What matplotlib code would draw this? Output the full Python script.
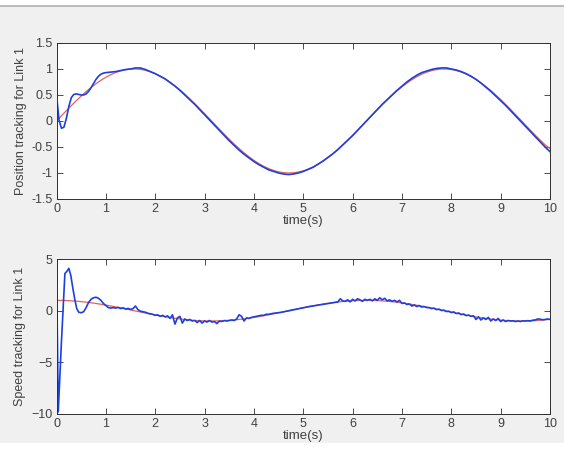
import numpy as np
import matplotlib
matplotlib.use("Agg")
import matplotlib.pyplot as plt
from matplotlib.patches import Rectangle
from matplotlib.lines import Line2D

# ---------------------------------------------------------------------------
# Datos
# ---------------------------------------------------------------------------
t_ref = np.linspace(0, 10, 101)

pos_ref = [
    0.000, 0.100, 0.199, 0.296, 0.389, 0.479, 0.565, 0.644, 0.717, 0.783,
    0.841, 0.891, 0.932, 0.964, 0.985, 0.997, 1.000, 0.992, 0.974, 0.946,
    0.909, 0.863, 0.808, 0.746, 0.675, 0.598, 0.516, 0.427, 0.335, 0.239,
    0.141, 0.042, -0.058, -0.158, -0.256, -0.351, -0.443, -0.530, -0.612, -0.688,
    -0.757, -0.818, -0.872, -0.916, -0.952, -0.978, -0.994, -1.000, -0.996, -0.982,
    -0.959, -0.926, -0.883, -0.832, -0.773, -0.706, -0.631, -0.551, -0.465, -0.374,
    -0.279, -0.182, -0.083, 0.017, 0.117, 0.215, 0.312, 0.405, 0.494, 0.579,
    0.657, 0.729, 0.794, 0.850, 0.899, 0.938, 0.968, 0.988, 0.999, 0.999,
    0.989, 0.970, 0.941, 0.902, 0.855, 0.798, 0.734, 0.663, 0.585, 0.501,
    0.412, 0.319, 0.223, 0.124, 0.025, -0.075, -0.175, -0.272, -0.366, -0.458,
    -0.530,
]

spd_ref = [
    1.000, 0.995, 0.980, 0.955, 0.921, 0.878, 0.825, 0.765, 0.697, 0.622,
    0.540, 0.454, 0.362, 0.267, 0.170, 0.071, -0.029, -0.129, -0.227, -0.323,
    -0.416, -0.505, -0.589, -0.666, -0.737, -0.801, -0.857, -0.904, -0.942, -0.971,
    -0.990, -0.999, -0.998, -0.987, -0.967, -0.936, -0.897, -0.848, -0.791, -0.726,
    -0.654, -0.575, -0.490, -0.401, -0.307, -0.211, -0.112, -0.012, 0.087, 0.187,
    0.284, 0.378, 0.469, 0.554, 0.635, 0.709, 0.776, 0.835, 0.886, 0.927,
    0.960, 0.983, 0.997, 1.000, 0.993, 0.977, 0.950, 0.914, 0.869, 0.815,
    0.754, 0.684, 0.608, 0.526, 0.439, 0.347, 0.252, 0.155, 0.055, -0.045,
    -0.146, -0.244, -0.340, -0.432, -0.519, -0.602, -0.678, -0.748, -0.811, -0.865,
    -0.911, -0.948, -0.975, -0.993, -1.000, -0.997, -0.984, -0.961, -0.929, -0.887,
    -0.839,
]

# posición real (azul): arranque con transitorio
t_pos = [0.0, 0.05, 0.1, 0.15, 0.2, 0.25, 0.3, 0.35, 0.4, 0.45, 0.5, 0.55,
         0.6, 0.65, 0.7, 0.75, 0.8, 0.85, 0.9, 0.95] + list(np.linspace(1.0, 10.0, 91))
pos_real = [
    0.50, 0.02, -0.14, -0.12, 0.05, 0.28, 0.45, 0.51, 0.52, 0.51, 0.50, 0.50,
    0.52, 0.57, 0.64, 0.72, 0.80, 0.86, 0.90, 0.92,
    0.93, 0.94, 0.95, 0.97, 0.99, 1.00, 1.02, 1.02, 0.99, 0.95,
    0.91, 0.86, 0.81, 0.74, 0.67, 0.59, 0.50, 0.41, 0.32, 0.22,
    0.12, 0.02, -0.08, -0.18, -0.28, -0.38, -0.47, -0.56, -0.64, -0.71,
    -0.78, -0.84, -0.89, -0.94, -0.97, -1.00, -1.02, -1.03, -1.02, -1.00,
    -0.97, -0.93, -0.89, -0.83, -0.77, -0.70, -0.63, -0.55, -0.46, -0.37,
    -0.28, -0.18, -0.08, 0.02, 0.12, 0.22, 0.32, 0.41, 0.50, 0.59,
    0.67, 0.75, 0.82, 0.88, 0.93, 0.96, 0.99, 1.01, 1.02, 1.02,
    1.00, 0.98, 0.95, 0.91, 0.86, 0.80, 0.73, 0.65, 0.57, 0.48,
    0.39, 0.30, 0.20, 0.10, 0.00, -0.10, -0.20, -0.30, -0.40, -0.50,
    -0.59,
]

# velocidad real (azul)
t_spd = [0.0, 0.035, 0.1, 0.17, 0.21, 0.25, 0.29, 0.33, 0.37, 0.41, 0.45] + \
    list(np.linspace(0.5, 10.0, 191))
spd_real = [
    4.8, -9.8, -3.0, 3.6, 3.8, 4.1, 3.4, 2.2, 1.1, 0.2, -0.15,
    -0.20, -0.10, 0.30, 0.80, 1.10, 1.25, 1.30, 1.20, 1.00, 0.70,
    0.50, 0.30, 0.25, 0.30, 0.25, 0.32, 0.20, 0.28, 0.15, 0.22,
    0.12, 0.20, 0.45, 0.10, -0.05, -0.10, -0.15, -0.25, -0.30, -0.35,
    -0.45, -0.40, -0.55, -0.45, -0.60, -0.50, -0.75, -0.40, -1.30, -0.70,
    -0.55, -1.20, -0.80, -0.95, -0.85, -1.00, -0.95, -1.15, -0.95, -1.20,
    -1.00, -1.10, -0.95, -1.10, -1.05, -1.25, -1.00, -1.05, -0.95, -1.00,
    -0.95, -0.90, -0.95, -0.80, -0.40, -0.55, -1.00, -0.70, -0.75, -0.65,
    -0.60, -0.55, -0.50, -0.45, -0.45, -0.35, -0.35, -0.30, -0.25, -0.22,
    -0.18, -0.16, -0.11, -0.06, -0.01, 0.04, 0.09, 0.14, 0.19, 0.24,
    0.28, 0.33, 0.38, 0.42, 0.47, 0.51, 0.55, 0.59, 0.63, 0.67,
    0.71, 0.74, 0.78, 0.81, 0.84, 1.15, 0.95, 0.90, 1.05, 0.85,
    1.10, 0.95, 1.15, 1.05, 0.90, 1.10, 1.00, 1.10, 0.95, 1.15,
    1.00, 1.25, 1.05, 1.20, 0.95, 1.05, 0.90, 1.00, 0.85, 1.00,
    0.70, 0.75, 0.60, 0.65, 0.45, 0.55, 0.40, 0.50, 0.35, 0.40,
    0.30, 0.30, 0.20, 0.25, 0.10, 0.15, 0.02, 0.05, -0.08, -0.05,
    -0.18, -0.12, -0.28, -0.22, -0.38, -0.32, -0.48, -0.42, -0.55, -0.50,
    -0.85, -0.60, -0.90, -0.70, -0.85, -0.65, -1.00, -0.80, -0.95, -0.75,
    -1.05, -0.90, -1.05, -0.95, -1.00, -0.98, -1.05, -1.00, -1.05, -0.98,
    -1.00, -0.97, -1.00, -0.92, -0.90, -0.80, -0.82, -0.88, -0.85, -0.80,
    -0.85,
]

x_ticks = [0, 1, 2, 3, 4, 5, 6, 7, 8, 9, 10]
pos_yticks = [-1.5, -1, -0.5, 0, 0.5, 1, 1.5]
pos_yticklabels = ["-1.5", "-1", "-0.5", "0", "0.5", "1", "1.5"]
spd_yticks = [-10, -5, 0, 5]

# ---------------------------------------------------------------------------
# Figura estilo MATLAB
# ---------------------------------------------------------------------------
plt.rcParams["font.family"] = ["Liberation Sans", "DejaVu Sans"]
TXT = "#404040"
BLUE = "#1c3fe0"
RED = "#e8605a"

fig = plt.figure(figsize=(5.64, 4.5), dpi=100, facecolor="#f0f0f0")
fig.add_artist(Rectangle((0, 1 - 5 / 450), 1, 5 / 450, transform=fig.transFigure,
                         color="white", zorder=0))
fig.add_artist(Line2D([0, 1], [1 - 6 / 450] * 2, transform=fig.transFigure,
                      color="#b0b0b0", lw=1.2))
fig.add_artist(Rectangle((0, 0), 1, 7 / 450, transform=fig.transFigure,
                         color="white", zorder=0))

ax1 = fig.add_axes([0.1002, 0.5578, 0.875, 0.3467])
ax2 = fig.add_axes([0.1002, 0.0800, 0.875, 0.3444])

ax1.plot(t_ref, pos_ref, color=RED, lw=0.9)
ax1.plot(t_pos, pos_real, color=BLUE, lw=1.2)
ax1.set_ylim(-1.5, 1.5)
ax1.set_yticks(pos_yticks)
ax1.set_yticklabels(pos_yticklabels)
ax1.set_ylabel("Position tracking for Link 1", color=TXT, fontsize=9, labelpad=3)

ax2.plot(t_ref, spd_ref, color=RED, lw=0.9)
ax2.plot(t_spd, spd_real, color=BLUE, lw=1.2)
ax2.set_ylim(-10, 5)
ax2.set_yticks(spd_yticks)
ax2.set_ylabel("Speed tracking for Link 1", color=TXT, fontsize=9, labelpad=4)

for ax in (ax1, ax2):
    ax.set_xlim(0, 10)
    ax.set_xticks(x_ticks)
    ax.set_xlabel("time(s)", color=TXT, fontsize=9.5, labelpad=0)
    ax.tick_params(direction="in", length=4, width=0.6, colors="#303030",
                   labelcolor=TXT, labelsize=9, top=True, right=True, pad=3)
    for sp in ax.spines.values():
        sp.set_color("#303030")
        sp.set_linewidth(0.7)

plt.savefig("out.png", dpi=100, facecolor=fig.get_facecolor())
